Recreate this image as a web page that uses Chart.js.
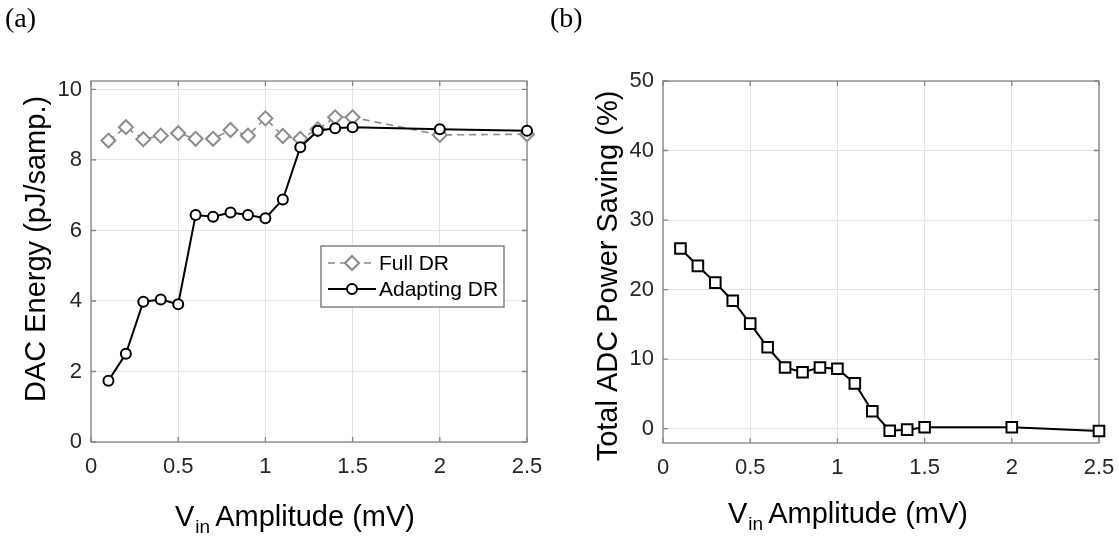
<!DOCTYPE html>
<html><head><meta charset="utf-8">
<script src="https://cdn.jsdelivr.net/npm/chart.js@4.4.1/dist/chart.umd.min.js"></script>
<style>
html,body{margin:0;padding:0;background:#fff;width:1119px;height:538px;overflow:hidden}
#wa{position:absolute;left:0;top:0;width:545px;height:538px}
#wb{position:absolute;left:545px;top:0;width:574px;height:538px}
</style></head><body>
<div id="wa"><canvas id="ca" width="545" height="538"></canvas></div>
<div id="wb"><canvas id="cb" width="574" height="538"></canvas></div>
<script>
// ---- data ----
const vin = [0.1,0.2,0.3,0.4,0.5,0.6,0.7,0.8,0.9,1.0,1.1,1.2,1.3,1.4,1.5,2.0,2.5];
const fullDR = [8.55,8.93,8.59,8.69,8.76,8.60,8.60,8.85,8.69,9.18,8.68,8.60,8.87,9.21,9.21,8.71,8.73];
const adaptingDR = [1.74,2.50,3.98,4.04,3.91,6.44,6.39,6.51,6.44,6.35,6.88,8.36,8.83,8.90,8.93,8.87,8.83];
const powerSaving = [25.9,23.4,21.0,18.4,15.1,11.7,8.8,8.1,8.8,8.6,6.5,2.5,-0.3,-0.15,0.2,0.2,-0.35];
const xTicks = [0,0.5,1,1.5,2,2.5];
const yTicksA = [0,2,4,6,8,10];
const yTicksB = [0,10,20,30,40,50];
const seriesNames = ['Full DR','Adapting DR'];
const panelLabels = ['(a)','(b)'];
const yTitleA = 'DAC Energy (pJ/samp.)';
const yTitleB = 'Total ADC Power Saving (%)';
const xTitleParts = ['V','in','Amplitude (mV)'];

const SANS = '"Liberation Sans", Arial, sans-serif';
const SERIF = '"Liberation Serif", "Times New Roman", serif';
const GRID = '#e3e3e3';
const FRAME = '#858585';
const TICKCOL = '#262626';

function pts(ys){ return vin.map((x,i)=>({x:x,y:ys[i]})); }

const framePlugin = {
  id:'frame',
  beforeDatasetsDraw(chart){
    const {ctx, chartArea:a, scales} = chart;
    ctx.save();
    ctx.strokeStyle = FRAME; ctx.lineWidth = 1.3;
    ctx.strokeRect(a.left, a.top, a.right-a.left, a.bottom-a.top);
    ctx.beginPath();
    const L = 5;
    scales.x.ticks.forEach(t=>{
      const px = scales.x.getPixelForValue(t.value);
      ctx.moveTo(px,a.bottom); ctx.lineTo(px,a.bottom-L);
      ctx.moveTo(px,a.top); ctx.lineTo(px,a.top+L);
    });
    scales.y.ticks.forEach(t=>{
      const py = scales.y.getPixelForValue(t.value);
      ctx.moveTo(a.left,py); ctx.lineTo(a.left+L,py);
      ctx.moveTo(a.right,py); ctx.lineTo(a.right-L,py);
    });
    ctx.stroke();
    ctx.restore();
  }
};

const textPlugin = {
  id:'texts',
  afterDraw(chart, args, o){
    const ctx = chart.ctx;
    ctx.save();
    ctx.fillStyle = '#000';
    ctx.font = '28px ' + SERIF;
    ctx.textBaseline = 'alphabetic'; ctx.textAlign='left';
    ctx.fillText(o.panel, 5, 27);
    ctx.save();
    ctx.translate(o.yx, o.yy);
    ctx.rotate(-Math.PI/2);
    ctx.font = '29px ' + SANS;
    ctx.textAlign = 'center';
    ctx.fillText(o.ytitle, 0, 0);
    ctx.restore();
    let x = o.xx;
    ctx.font = '29px ' + SANS;
    ctx.fillText(xTitleParts[0], x, o.xb);
    x += ctx.measureText(xTitleParts[0]).width + 1;
    ctx.font = '19px ' + SANS;
    ctx.fillText(xTitleParts[1], x, o.xb + 7);
    x += ctx.measureText(xTitleParts[1]).width + 5;
    ctx.font = '29px ' + SANS;
    ctx.fillText(xTitleParts[2], x, o.xb);
    ctx.restore();
  }
};

const legendPlugin = {
  id:'boxlegend',
  afterDatasetsDraw(chart, args, o){
    if(!o.show) return;
    const ctx = chart.ctx;
    ctx.save();
    ctx.fillStyle = '#fff';
    ctx.fillRect(o.x, o.y, o.w, o.h);
    ctx.strokeStyle = '#6f6f6f'; ctx.lineWidth = 1.3;
    ctx.strokeRect(o.x, o.y, o.w, o.h);
    const rows = [o.y+17, o.y+43];
    const order = [1,0];
    order.forEach((di, r)=>{
      const ds = chart.data.datasets[di];
      const y = rows[r];
      ctx.save();
      ctx.strokeStyle = ds.borderColor; ctx.lineWidth = ds.borderWidth;
      ctx.setLineDash(ds.borderDash || []);
      ctx.beginPath(); ctx.moveTo(o.x+7, y); ctx.lineTo(o.x+55, y); ctx.stroke();
      ctx.setLineDash([]);
      ctx.fillStyle = '#fff'; ctx.strokeStyle = ds.pointBorderColor; ctx.lineWidth = ds.pointBorderWidth;
      ctx.beginPath();
      Chart.helpers.drawPoint(ctx, {pointStyle: ds.pointStyle, radius: ds.pointRadius, rotation:0, borderWidth: ds.pointBorderWidth}, o.x+31, y);
      ctx.restore();
      ctx.fillStyle = '#000';
      ctx.font = '21px ' + SANS;
      ctx.textBaseline = 'middle';
      ctx.fillText(ds.label, o.x+58, y+1);
    });
    ctx.restore();
  }
};

function scaleX(h){
  return {
    type:'linear', min:0, max:2.5,
    afterBuildTicks(s){ s.ticks = xTicks.map(v=>({value:v})); },
    afterFit(s){ s.height = h; s.paddingLeft = 0; s.paddingRight = 0; },
    grid:{color:GRID, lineWidth:1, drawTicks:false},
    border:{display:false},
    ticks:{padding:12, color:TICKCOL, font:{family:SANS, size:22}, maxRotation:0, autoSkip:false,
      callback:v=>String(v)}
  };
}
function scaleY(min,max,ticks,w){
  return {
    type:'linear', min:min, max:max,
    afterBuildTicks(s){ s.ticks = ticks.map(v=>({value:v})); },
    afterFit(s){ s.width = w; s.paddingTop = 0; s.paddingBottom = 0; },
    grid:{color:GRID, lineWidth:1, drawTicks:false},
    border:{display:false},
    ticks:{padding:9, color:TICKCOL, font:{family:SANS, size:22}, autoSkip:false,
      callback:v=>String(v)}
  };
}

new Chart(document.getElementById('ca'), {
  type:'line',
  data:{datasets:[
    {label:seriesNames[1], data:pts(adaptingDR), order:1, borderColor:'#000', borderWidth:2,
     pointStyle:'circle', pointRadius:5, pointBorderWidth:2, pointBorderColor:'#000', pointBackgroundColor:'#fff', clip:false},
    {label:seriesNames[0], data:pts(fullDR), order:2, borderColor:'#8c8c8c', borderWidth:1.6, borderDash:[7,5],
     pointStyle:'rectRot', pointRadius:7, pointBorderWidth:2, pointBorderColor:'#8c8c8c', pointBackgroundColor:'#fff', clip:false}
  ]},
  options:{
    responsive:false, animation:false, devicePixelRatio:1,
    layout:{padding:{left:0, right:18, top:81, bottom:0}},
    scales:{x:scaleX(96), y:scaleY(0,10.24,yTicksA,91)},
    plugins:{legend:{display:false}, tooltip:{enabled:false},
      texts:{panel:panelLabels[0], ytitle:yTitleA, yx:45, yy:249, xx:175, xb:526},
      boxlegend:{show:true, x:321, y:246, w:183, h:61}}
  },
  plugins:[framePlugin, legendPlugin, textPlugin]
});

new Chart(document.getElementById('cb'), {
  type:'line',
  data:{datasets:[
    {label:'Power saving', data:pts(powerSaving), borderColor:'#000', borderWidth:2,
     pointStyle:'rect', pointRadius:7.5, pointBorderWidth:2, pointBorderColor:'#000', pointBackgroundColor:'#fff', clip:false}
  ]},
  options:{
    responsive:false, animation:false, devicePixelRatio:1,
    layout:{padding:{left:0, right:20, top:81, bottom:0}},
    scales:{x:scaleX(95), y:scaleY(-2.07,50,yTicksB,118)},
    plugins:{legend:{display:false}, tooltip:{enabled:false},
      texts:{panel:panelLabels[1], ytitle:yTitleB, yx:72, yy:276, xx:183, xb:523},
      boxlegend:{show:false}}
  },
  plugins:[framePlugin, legendPlugin, textPlugin]
});
</script>
</body></html>
